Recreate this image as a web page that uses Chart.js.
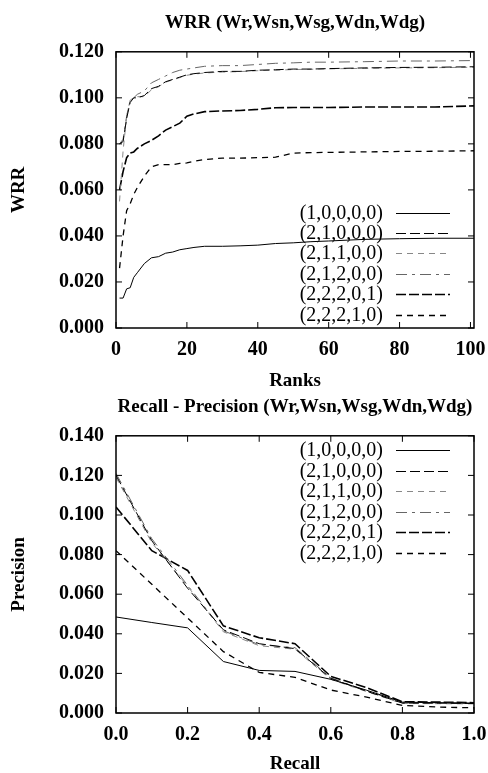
<!DOCTYPE html>
<html>
<head>
<meta charset="utf-8">
<title>WRR / Recall - Precision</title>
<script src="https://cdn.jsdelivr.net/npm/chart.js@4.4.0/dist/chart.umd.min.js"></script>
<style>
  body { margin: 0; background: #fff; }
  canvas { display: block; }
</style>
</head>
<body>
<canvas id="wrrChart" width="488" height="390"></canvas>
<canvas id="prChart" width="488" height="383"></canvas>
<script>
// Weight settings (Wr,Wsn,Wsg,Wdn,Wdg), one series each
const weightLabels = ['(1,0,0,0,0)', '(2,1,0,0,0)', '(2,1,1,0,0)', '(2,1,2,0,0)', '(2,2,2,0,1)', '(2,2,2,1,0)'];

// WRR by rank
const ranks = [1, 2, 3, 4, 5, 6, 8, 10, 12, 14, 16, 18, 20, 22, 25, 30, 35, 40, 45, 50, 55, 60, 70, 80, 90, 101];
const wrr10000 = [0.013, 0.013, 0.017, 0.0175, 0.022, 0.024, 0.028, 0.0305, 0.031, 0.0325, 0.033, 0.034, 0.0345, 0.035, 0.0355, 0.0355, 0.0357, 0.036, 0.0367, 0.037, 0.0375, 0.0378, 0.0385, 0.0388, 0.039, 0.039];
const wrr21000 = [0.080, 0.081, 0.091, 0.098, 0.100, 0.100, 0.101, 0.104, 0.105, 0.107, 0.108, 0.109, 0.110, 0.1105, 0.111, 0.1115, 0.1115, 0.112, 0.1122, 0.1125, 0.1125, 0.1127, 0.113, 0.1132, 0.1133, 0.1135];
const wrr21100 = [0.055, 0.077, 0.092, 0.099, 0.100, 0.1005, 0.1005, 0.1035, 0.1048, 0.1068, 0.1078, 0.1088, 0.1098, 0.1103, 0.1108, 0.1112, 0.1114, 0.1118, 0.112, 0.1123, 0.1124, 0.1126, 0.1128, 0.113, 0.1131, 0.1133];
const wrr21200 = [0.080, 0.082, 0.092, 0.099, 0.100, 0.1015, 0.103, 0.1065, 0.108, 0.1095, 0.111, 0.112, 0.1125, 0.113, 0.1137, 0.114, 0.114, 0.1145, 0.115, 0.1152, 0.1155, 0.1155, 0.1157, 0.116, 0.116, 0.1162];
const wrr22201 = [0.060, 0.068, 0.074, 0.076, 0.0765, 0.078, 0.080, 0.0815, 0.0835, 0.086, 0.0875, 0.089, 0.092, 0.093, 0.094, 0.0943, 0.0945, 0.095, 0.0957, 0.0958, 0.0958, 0.0958, 0.096, 0.096, 0.096, 0.0965];
const wrr22210 = [0.026, 0.040, 0.051, 0.054, 0.058, 0.061, 0.066, 0.070, 0.071, 0.071, 0.071, 0.0715, 0.0717, 0.0725, 0.0732, 0.0738, 0.0738, 0.074, 0.0742, 0.076, 0.0762, 0.0763, 0.0765, 0.0767, 0.0768, 0.077];
const wrrTicksX = [0, 20, 40, 60, 80, 100];
const wrrTicksY = [0, 0.02, 0.04, 0.06, 0.08, 0.10, 0.12];

// Precision by recall
const recall = [0, 0.1, 0.2, 0.3, 0.4, 0.5, 0.6, 0.7, 0.8, 0.9, 1.0];
const pr10000 = [0.0485, 0.0457, 0.043, 0.026, 0.0215, 0.021, 0.017, 0.0115, 0.0055, 0.0052, 0.005];
const pr21000 = [0.120, 0.087, 0.063, 0.042, 0.035, 0.0325, 0.0175, 0.011, 0.005, 0.005, 0.0048];
const pr21100 = [0.119, 0.086, 0.064, 0.041, 0.034, 0.0322, 0.017, 0.0108, 0.0048, 0.0047, 0.0046];
const pr21200 = [0.121, 0.088, 0.0645, 0.0415, 0.0345, 0.033, 0.0178, 0.0112, 0.0052, 0.005, 0.0049];
const pr22201 = [0.104, 0.082, 0.072, 0.044, 0.038, 0.035, 0.0185, 0.0128, 0.0057, 0.0055, 0.0052];
const pr22210 = [0.082, 0.065, 0.048, 0.031, 0.0205, 0.018, 0.0116, 0.008, 0.0038, 0.003, 0.0026];
const prTicksX = [0, 0.2, 0.4, 0.6, 0.8, 1.0];
const prTicksY = [0, 0.02, 0.04, 0.06, 0.08, 0.10, 0.12, 0.14];

// gnuplot-like line types
const lineStyles = [
    { borderColor: '#000', borderWidth: 1, borderDash: [] },
    { borderColor: '#000', borderWidth: 1, borderDash: [10, 4] },
    { borderColor: '#888', borderWidth: 1, borderDash: [6, 5] },
    { borderColor: '#666', borderWidth: 1, borderDash: [11, 5, 3, 5] },
    { borderColor: '#000', borderWidth: 1.6, borderDash: [10, 3] },
    { borderColor: '#000', borderWidth: 1.3, borderDash: [6, 5] }
];

Chart.defaults.font.family = '"Liberation Serif", "Times New Roman", serif';
Chart.defaults.color = '#000';

function buildDatasets(xs, series) {
    return series.map((values, i) => ({
        label: weightLabels[i],
        data: xs.map((x, j) => ({ x: x, y: values[j] })),
        pointRadius: 0,
        tension: 0,
        fill: false,
        ...lineStyles[i]
    }));
}

// box round the plot with inward tick marks on all four sides
const framePlugin = {
    id: 'frame',
    afterDraw(chart) {
        const { ctx, chartArea: a, scales: { x, y } } = chart;
        ctx.save();
        ctx.strokeStyle = '#000';
        ctx.lineWidth = 1;
        ctx.beginPath();
        x.ticks.forEach(t => {
            const px = x.getPixelForValue(t.value);
            ctx.moveTo(px, a.bottom); ctx.lineTo(px, a.bottom - 6);
            ctx.moveTo(px, a.top); ctx.lineTo(px, a.top + 6);
        });
        y.ticks.forEach(t => {
            const py = y.getPixelForValue(t.value);
            ctx.moveTo(a.left, py); ctx.lineTo(a.left + 6, py);
            ctx.moveTo(a.right, py); ctx.lineTo(a.right - 6, py);
        });
        ctx.stroke();
        ctx.lineWidth = 1.5;
        ctx.strokeRect(a.left, a.top, a.right - a.left, a.bottom - a.top);
        ctx.restore();
    }
};

// gnuplot style key: text right aligned, sample line on its right
const keyPlugin = {
    id: 'key',
    afterDraw(chart, args, opts) {
        const { ctx } = chart;
        ctx.save();
        ctx.font = '20px "Liberation Serif"';
        ctx.textAlign = 'right';
        ctx.textBaseline = 'middle';
        chart.data.datasets.forEach((ds, i) => {
            const y = Math.round(opts.top + i * opts.rowHeight) + 0.5;
            ctx.fillStyle = '#000';
            ctx.fillText(ds.label, opts.textRight, y);
            ctx.strokeStyle = ds.borderColor;
            ctx.lineWidth = ds.borderWidth;
            ctx.setLineDash(ds.borderDash);
            ctx.beginPath();
            ctx.moveTo(opts.lineLeft, y);
            ctx.lineTo(opts.lineRight, y);
            ctx.stroke();
        });
        ctx.restore();
    }
};

function makeOptions(cfg) {
    const tickFont = { size: 20, weight: 'bold' };
    const titleFont = { size: 19, weight: 'bold', lineHeight: 1 };
    return {
        responsive: false,
        animation: false,
        devicePixelRatio: 1,
        layout: { padding: { left: 0, right: 14, top: 0, bottom: 0 } },
        scales: {
            x: {
                type: 'linear',
                min: cfg.xMin,
                max: cfg.xMax,
                grid: { display: false, drawTicks: false },
                border: { display: false },
                afterBuildTicks: s => { s.ticks = cfg.xTicks.map(v => ({ value: v })); },
                afterFit: s => { s.height = cfg.xHeight; s.paddingLeft = 0; s.paddingRight = 0; },
                ticks: {
                    font: tickFont,
                    padding: 10,
                    maxRotation: 0,
                    autoSkip: false,
                    callback: cfg.xFormat
                },
                title: { display: true, text: cfg.xTitle, font: titleFont, padding: { top: 0, bottom: -1 } }
            },
            y: {
                type: 'linear',
                min: cfg.yMin,
                max: cfg.yMax,
                grid: { display: false, drawTicks: false },
                border: { display: false },
                afterBuildTicks: s => { s.ticks = cfg.yTicks.map(v => ({ value: v })); },
                afterFit: s => { s.width = 116; },
                ticks: {
                    font: tickFont,
                    padding: 12,
                    callback: v => v.toFixed(3)
                },
                title: { display: true, text: cfg.yTitle, font: titleFont, padding: { top: 10, bottom: 0 } }
            }
        },
        plugins: {
            legend: { display: false },
            tooltip: { enabled: false },
            title: {
                display: true,
                text: cfg.title,
                fullSize: false,
                font: { size: 19, weight: 'bold', lineHeight: 1.2 },
                padding: { top: cfg.titleTop, bottom: cfg.titleBottom }
            },
            key: cfg.key
        }
    };
}

const wrrChart = new Chart(document.getElementById('wrrChart'), {
    type: 'line',
    data: { datasets: buildDatasets(ranks, [wrr10000, wrr21000, wrr21100, wrr21200, wrr22201, wrr22210]) },
    options: makeOptions({
        title: 'WRR (Wr,Wsn,Wsg,Wdn,Wdg)',
        titleTop: 12, titleBottom: 17,
        xMin: 0, xMax: 101, xTicks: wrrTicksX, xHeight: 62,
        xFormat: v => String(v),
        xTitle: 'Ranks',
        yMin: 0, yMax: 0.12, yTicks: wrrTicksY,
        yTitle: 'WRR',
        key: { textRight: 383, lineLeft: 396, lineRight: 450, top: 212.5, rowHeight: 20.4 }
    }),
    plugins: [framePlugin, keyPlugin]
});

const prChart = new Chart(document.getElementById('prChart'), {
    type: 'line',
    data: { datasets: buildDatasets(recall, [pr10000, pr21000, pr21100, pr21200, pr22201, pr22210]) },
    options: makeOptions({
        title: 'Recall - Precision (Wr,Wsn,Wsg,Wdn,Wdg)',
        titleTop: 6, titleBottom: 17,
        xMin: 0, xMax: 1, xTicks: prTicksX, xHeight: 60,
        xFormat: v => v.toFixed(1),
        xTitle: 'Recall',
        yMin: 0, yMax: 0.14, yTicks: prTicksY,
        yTitle: 'Precision',
        key: { textRight: 383, lineLeft: 396, lineRight: 450, top: 60, rowHeight: 20.5 }
    }),
    plugins: [framePlugin, keyPlugin]
});
</script>
</body>
</html>
